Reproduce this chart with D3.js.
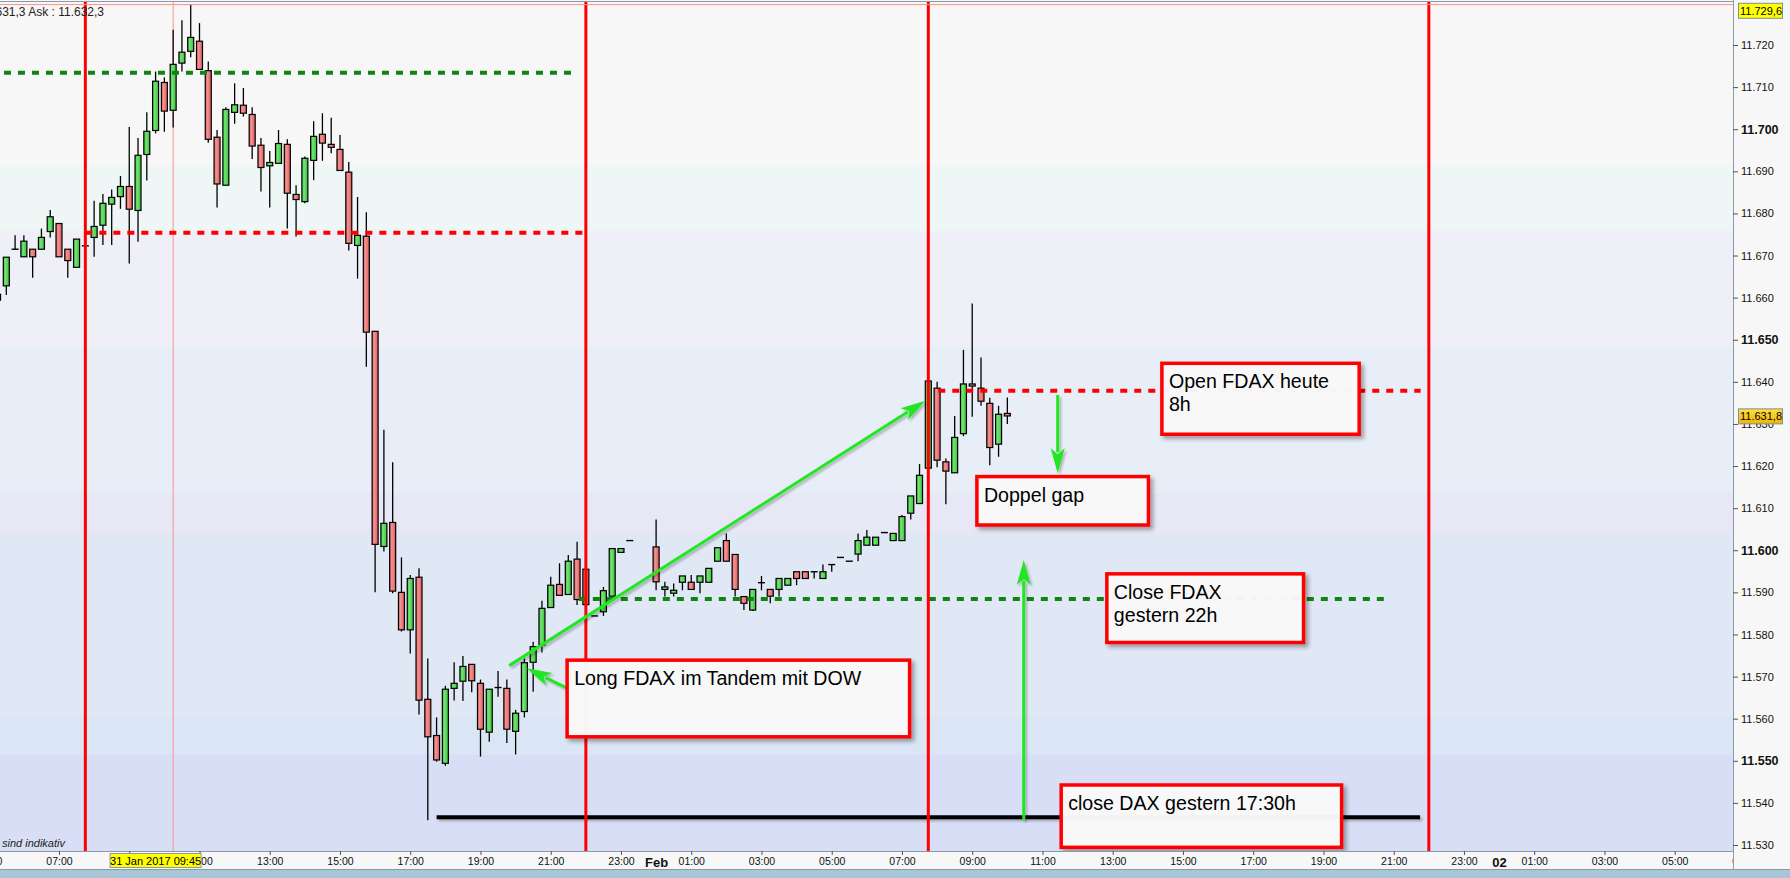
<!DOCTYPE html>
<html><head><meta charset="utf-8">
<script src="https://cdn.jsdelivr.net/npm/d3@7"></script>
<style>body{margin:0;background:#f7f7f7;overflow:hidden}svg{display:block;font-family:"Liberation Sans",Arial,sans-serif}</style>
</head><body><svg id="c" width="1790" height="878"></svg>
<script>
// ---------------- DATA ----------------
const times = ["01-31 05:15","01-31 05:30","01-31 05:45","01-31 06:00","01-31 06:15","01-31 06:30","01-31 06:45","01-31 07:00","01-31 07:15","01-31 07:30","01-31 07:45",
"01-31 08:00","01-31 08:15","01-31 08:30","01-31 08:45","01-31 09:00","01-31 09:15","01-31 09:30","01-31 09:45","01-31 10:00","01-31 10:15","01-31 10:30","01-31 10:45",
"01-31 11:00","01-31 11:15","01-31 11:30","01-31 11:45","01-31 12:00","01-31 12:15","01-31 12:30","01-31 12:45","01-31 13:00","01-31 13:15","01-31 13:30","01-31 13:45",
"01-31 14:00","01-31 14:15","01-31 14:30","01-31 14:45","01-31 15:00","01-31 15:15","01-31 15:30","01-31 15:45","01-31 16:00","01-31 16:15","01-31 16:30","01-31 16:45",
"01-31 17:00","01-31 17:15","01-31 17:30","01-31 17:45","01-31 18:00","01-31 18:15","01-31 18:30","01-31 18:45","01-31 19:00","01-31 19:15","01-31 19:30","01-31 19:45",
"01-31 20:00","01-31 20:15","01-31 20:30","01-31 20:45","01-31 21:00","01-31 21:15","01-31 21:30","01-31 21:45","01-31 22:00","01-31 22:15","01-31 22:30","01-31 22:45",
"01-31 23:00","01-31 23:15","02-01 00:00","02-01 00:15","02-01 00:30","02-01 00:45","02-01 01:00","02-01 01:15","02-01 01:30","02-01 01:45",
"02-01 02:00","02-01 02:15","02-01 02:30","02-01 02:45","02-01 03:00","02-01 03:15","02-01 03:30","02-01 03:45","02-01 04:00","02-01 04:15","02-01 04:30","02-01 04:45",
"02-01 05:00","02-01 05:15","02-01 05:30","02-01 05:45","02-01 06:00","02-01 06:15","02-01 06:30","02-01 06:45","02-01 07:00","02-01 07:15","02-01 07:30","02-01 07:45",
"02-01 08:00","02-01 08:15","02-01 08:30","02-01 08:45","02-01 09:00","02-01 09:15","02-01 09:30","02-01 09:45","02-01 10:00"];
const opens = [11659.4,11662.8,11671.5,11669.7,11671.5,11671.5,11675.7,11677.6,11671.5,11667.2,11672.3,
11674.3,11677.2,11682.2,11684.0,11686.4,11680.7,11694.0,11699.7,11711.1,11704.5,11715.7,11718.5,
11720.9,11713.9,11698.1,11686.7,11704.0,11705.7,11703.5,11696.2,11691.3,11691.9,11696.4,11684.5,
11682.8,11692.6,11698.8,11696.4,11695.2,11689.8,11672.4,11674.6,11652.0,11600.9,11606.6,11590.0,
11581.1,11593.6,11564.6,11556.0,11549.4,11567.2,11568.9,11572.9,11568.4,11556.8,11567.4,11567.2,
11557.0,11561.7,11573.4,11577.5,11586.4,11591.9,11589.5,11597.9,11595.5,11584.4,11585.4,11589.1,
11599.5,11602.3,11600.8,11590.7,11589.8,11592.4,11592.4,11592.4,11592.4,11597.4,
11602.3,11599.0,11589.0,11585.8,11592.3,11590.7,11590.7,11591.7,11594.9,11594.9,11594.9,11593.3,
11596.6,11598.3,11597.4,11599.1,11601.2,11601.2,11604.2,11602.3,11602.3,11608.8,11611.1,11619.5,
11638.5,11621.0,11618.4,11627.7,11639.5,11638.5,11634.9,11625.2,11632.5];
const highs = [11661.5,11669.6,11674.8,11674.8,11671.5,11676.4,11680.8,11677.6,11671.5,11673.9,11673.3,
11683.0,11684.6,11685.7,11688.9,11700.5,11697.9,11704.0,11713.7,11712.3,11723.6,11725.9,11729.6,
11725.2,11716.1,11699.8,11705.2,11710.9,11709.8,11705.2,11697.9,11694.8,11699.8,11697.6,11686.7,
11693.5,11701.9,11703.8,11702.7,11698.6,11692.2,11683.9,11680.3,11652.0,11628.6,11620.9,11598.3,
11594.1,11595.7,11574.3,11560.3,11567.8,11573.4,11574.9,11572.9,11569.3,11567.0,11571.3,11569.3,
11562.1,11574.3,11578.3,11588.0,11593.7,11596.9,11598.9,11602.0,11595.5,11584.4,11591.3,11600.4,
11600.4,11602.3,11607.3,11592.5,11592.1,11593.9,11594.1,11593.9,11595.7,11600.6,
11604.0,11599.0,11589.0,11590.7,11593.9,11590.7,11593.3,11593.3,11594.9,11594.9,11594.9,11596.6,
11596.6,11598.3,11597.4,11604.0,11604.8,11603.1,11604.2,11604.0,11608.4,11612.9,11620.5,11640.2,
11640.0,11621.8,11631.9,11647.6,11658.6,11645.8,11636.2,11634.3,11636.3];
const lows = [11659.0,11660.6,11671.5,11669.7,11664.7,11671.5,11674.3,11669.7,11664.7,11667.2,11671.3,
11669.7,11672.5,11672.5,11681.1,11668.1,11673.3,11687.8,11699.0,11699.4,11700.4,11713.7,11717.1,
11714.2,11696.8,11681.4,11686.7,11701.3,11703.0,11692.9,11685.2,11681.4,11691.9,11676.4,11674.5,
11682.4,11687.9,11692.5,11694.3,11690.2,11671.2,11664.5,11643.6,11590.0,11599.7,11589.8,11580.7,
11575.5,11561.0,11535.9,11549.8,11548.8,11564.3,11564.2,11566.3,11551.0,11554.5,11565.2,11554.2,
11551.5,11560.3,11566.4,11575.7,11586.4,11589.3,11589.5,11587.0,11586.2,11584.4,11584.4,11589.1,
11599.5,11602.3,11590.5,11589.0,11589.0,11590.5,11590.7,11589.8,11592.4,11597.4,
11597.4,11589.0,11585.8,11585.6,11590.5,11587.4,11589.0,11591.7,11591.7,11593.3,11593.3,11593.3,
11594.9,11598.3,11597.4,11597.4,11601.2,11601.2,11604.2,11602.3,11602.3,11607.3,11611.1,11619.5,
11619.7,11610.9,11618.4,11627.1,11631.7,11634.3,11620.2,11622.2,11630.0];
const closes = [11660.8,11669.6,11671.5,11673.4,11669.7,11674.3,11679.2,11669.7,11668.8,11673.9,11672.3,
11676.9,11682.4,11683.8,11686.4,11681.0,11693.8,11699.5,11711.4,11704.3,11715.4,11718.3,11721.8,
11714.2,11697.6,11687.0,11704.7,11705.8,11703.8,11696.0,11690.9,11692.1,11696.6,11684.8,11683.3,
11693.1,11698.3,11696.7,11695.7,11690.2,11672.9,11674.8,11651.8,11601.4,11606.4,11590.3,11581.1,
11593.3,11564.4,11555.7,11550.2,11567.0,11568.4,11572.4,11569.0,11557.5,11567.0,11567.4,11557.5,
11561.3,11573.3,11577.1,11586.2,11591.7,11589.3,11597.4,11588.3,11587.1,11584.4,11590.4,11600.4,
11600.4,11602.3,11592.5,11591.3,11590.5,11593.9,11590.7,11593.9,11595.7,11600.6,
11597.4,11590.7,11587.4,11590.7,11592.3,11589.1,11593.3,11593.3,11593.3,11593.3,11594.9,11594.9,
11596.6,11598.3,11597.4,11602.3,11603.1,11603.1,11604.2,11604.0,11608.0,11612.9,11617.8,11640.2,
11621.4,11618.8,11626.8,11639.5,11639.0,11635.4,11624.4,11632.3,11631.9];

const yTicks = [11530,11540,11550,11560,11570,11580,11590,11600,11610,11620,11630,11640,11650,11660,11670,11680,11690,11700,11710,11720];
const xTicks = ["01-31 05:00","01-31 07:00","01-31 09:00","01-31 11:00","01-31 13:00","01-31 15:00","01-31 17:00","01-31 19:00","01-31 21:00","01-31 23:00",
"02-01 00:00","02-01 01:00","02-01 03:00","02-01 05:00","02-01 07:00","02-01 09:00","02-01 11:00","02-01 13:00","02-01 15:00","02-01 17:00","02-01 19:00","02-01 21:00","02-01 23:00",
"02-02 00:00","02-02 01:00","02-02 03:00","02-02 05:00","02-02 07:00"];

// session separators (red verticals)
const sessionLines = ["01-31 07:45","01-31 22:00","02-01 07:45","02-01 22:00"];
// horizontal levels
const levelNames = ["hochGruen","openGestern","closeFDAX","openHeute","closeDAX"];
const levelValues = [11713.4, 11675.4, 11588.4, 11637.9, 11536.6];
const levelFrom = ["01-31 05:26","01-31 07:45","01-31 21:48","02-01 08:02","01-31 17:45"];
const levelTo = ["01-31 21:35","01-31 21:56","02-01 20:45","02-01 21:46","02-01 21:45"];
// arrows (from -> to, tip at "to")
const arrowFromT = ["01-31 19:49","01-31 21:31","02-01 11:26","02-01 10:28"];
const arrowFromV = [11572.6, 11567.0, 11636.9, 11535.9];
const arrowToT = ["02-01 07:40","01-31 20:19","02-01 11:26","02-01 10:28"];
const arrowToV = [11635.5, 11572.0, 11618.3, 11597.7];
// note boxes
const noteTexts = ["Open FDAX heute\n8h","Doppel gap","Close FDAX\ngestern 22h","Long FDAX im Tandem mit DOW","close DAX gestern 17:30h"];
const noteT0 = ["02-01 14:24","02-01 09:08","02-01 12:50","01-31 21:28","02-01 11:32"];
const noteT1 = ["02-01 20:01","02-01 14:01","02-01 18:26","02-01 07:13","02-01 19:31"];
const noteV0 = [11644.4, 11617.5, 11594.4, 11573.9, 11544.25];
const noteV1 = [11627.55, 11606.0, 11578.1, 11555.7, 11529.45];
// crosshair / labels
const crossTime = "01-31 10:15", crossLabelTime = "01-31 09:45", crossLabel = "31 Jan 2017 09:45";
const crossPrice = 11729.6, lastPrice = 11631.8;
const quoteText = "Bid : 11.631,3 Ask : 11.632,3";
const footText = "sind indikativ";

// ---------------- CHART ----------------
const parse = d3.utcParse("%Y-%m-%d %H:%M");
const T = s => parse("2017-" + s);
const plotR = 1733, plotT = 2, plotB = 851;
const x = d3.scaleUtc().domain([T("01-31 07:00"), T("02-02 05:00")]).range([59, 1674.7]);
const y = d3.scaleLinear().domain([11530, 11720]).range([845, 45]);
const deFmt = v => d3.format(",.0f")(v).replace(/,/g, ".");
const deFmt1 = v => d3.format(",.1f")(v).replace(/,/g, "#").replace(".", ",").replace(/#/g, ".");

const svg = d3.select("#c");
const defs = svg.append("defs");
defs.append("clipPath").attr("id", "plot").append("rect")
  .attr("x", 0).attr("y", plotT).attr("width", plotR).attr("height", plotB - plotT);
function grad(id, stops) {
  const g = defs.append("linearGradient").attr("id", id).attr("x1", 0).attr("x2", 1).attr("y1", 0).attr("y2", 0);
  stops.forEach(s => g.append("stop").attr("offset", s[0]).attr("stop-color", s[1]));
}
grad("gUp", [[0, "#3fc43f"], [0.35, "#74e474"], [1, "#3cc03c"]]);
grad("gDn", [[0, "#e36060"], [0.35, "#f39393"], [1, "#df5a5a"]]);
const gold = defs.append("linearGradient").attr("id", "gGold").attr("x1", 0).attr("x2", 0).attr("y1", 0).attr("y2", 1);
gold.append("stop").attr("offset", 0).attr("stop-color", "#ffe040");
gold.append("stop").attr("offset", 1).attr("stop-color", "#f2b400");
const sh = defs.append("filter").attr("id", "shadow").attr("x", "-10%").attr("y", "-10%").attr("width", "130%").attr("height", "140%");
sh.append("feDropShadow").attr("dx", 3).attr("dy", 3).attr("stdDeviation", 2).attr("flood-color", "#000").attr("flood-opacity", 0.35);
const sh2 = defs.append("filter").attr("id", "shadow2").attr("filterUnits", "userSpaceOnUse")
  .attr("x", 0).attr("y", 0).attr("width", 1790).attr("height", 878);
sh2.append("feDropShadow").attr("dx", 2).attr("dy", 2).attr("stdDeviation", 1.2).attr("flood-color", "#000").attr("flood-opacity", 0.25);

// background bands (plot area gradient look)
const bands = [[0,165,"#f7f7f7"],[165,231,"#eff6f6"],[231,347,"#efeff8"],[347,493,"#e8eef7"],[493,533,"#e7e7f5"],[533,717,"#e0e7f5"],[717,755,"#dae5f5"],[755,851,"#d7def5"]];
svg.append("g").selectAll("rect").data(bands).join("rect")
  .attr("x", 0).attr("width", plotR).attr("y", d => d[0]).attr("height", d => d[1] - d[0]).attr("fill", d => d[2]);

const plot = svg.append("g").attr("clip-path", "url(#plot)");

// crosshair
plot.append("line").attr("x1", x(T(crossTime))).attr("x2", x(T(crossTime))).attr("y1", plotT).attr("y2", plotB)
  .attr("stroke", "#ff8f8f").attr("stroke-width", 1);

// candles
const candles = times.map((s, i) => ({ t: T(s), o: opens[i], h: highs[i], l: lows[i], c: closes[i] }));
const cg = plot.append("g").selectAll("g").data(candles).join("g");
cg.append("line").attr("x1", d => x(d.t)).attr("x2", d => x(d.t))
  .attr("y1", d => y(d.h)).attr("y2", d => y(d.l)).attr("stroke", "#000").attr("stroke-width", 1.3);
cg.filter(d => d.o !== d.c).append("rect")
  .attr("x", d => x(d.t) - 3).attr("width", 6)
  .attr("y", d => y(Math.max(d.o, d.c))).attr("height", d => Math.max(1, Math.abs(y(d.o) - y(d.c))))
  .attr("fill", d => d.c > d.o ? "url(#gUp)" : "url(#gDn)").attr("stroke", "#000").attr("stroke-width", 1.2);
cg.filter(d => d.o === d.c).append("line")
  .attr("x1", d => x(d.t) - 3.5).attr("x2", d => x(d.t) + 3.5)
  .attr("y1", d => y(d.o)).attr("y2", d => y(d.o)).attr("stroke", "#000").attr("stroke-width", 1.4);

// levels
const levelStyle = { hochGruen: ["#0f850f", "7,7", 4], openGestern: ["#ff0000", "7,7", 4], closeFDAX: ["#0f850f", "7,7", 4], openHeute: ["#ff0000", "7,7", 4], closeDAX: ["#000", null, 4] };
levelNames.forEach((n, i) => {
  const st = levelStyle[n];
  const l = plot.append("line").attr("x1", x(T(levelFrom[i]))).attr("x2", x(T(levelTo[i])))
    .attr("y1", y(levelValues[i])).attr("y2", y(levelValues[i]))
    .attr("stroke", st[0]).attr("stroke-width", st[2]);
  if (st[1]) l.attr("stroke-dasharray", st[1]);
  else l.attr("filter", "url(#shadow2)");
});

// red session lines
plot.append("g").selectAll("line").data(sessionLines).join("line")
  .attr("x1", d => x(T(d))).attr("x2", d => x(T(d))).attr("y1", plotT).attr("y2", plotB)
  .attr("stroke", "#ff0000").attr("stroke-width", 3);

// crosshair horizontal
plot.append("line").attr("x1", 0).attr("x2", plotR).attr("y1", y(crossPrice)).attr("y2", y(crossPrice))
  .attr("stroke", "#ff8f8f").attr("stroke-width", 1);

// arrows
const ag = plot.append("g").attr("filter", "url(#shadow2)");
arrowFromT.forEach((s, i) => {
  const x1 = x(T(s)), y1 = y(arrowFromV[i]), x2 = x(T(arrowToT[i])), y2 = y(arrowToV[i]);
  const dx = x2 - x1, dy = y2 - y1, len = Math.hypot(dx, dy), ux = dx / len, uy = dy / len;
  const hl = 25, hw = 7;
  const bx = x2 - ux * hl, by = y2 - uy * hl;
  ag.append("line").attr("x1", x1).attr("y1", y1).attr("x2", bx + ux * 4).attr("y2", by + uy * 4)
    .attr("stroke", "#22e622").attr("stroke-width", 3);
  ag.append("path").attr("d", `M${x2},${y2}L${bx - uy * hw},${by + ux * hw}L${bx + ux * 6},${by + uy * 6}L${bx + uy * hw},${by - ux * hw}Z`)
    .attr("fill", "#22e622");
});

// note boxes
noteTexts.forEach((txt, i) => {
  const x0 = x(T(noteT0[i])), x1 = x(T(noteT1[i])), y0 = y(noteV0[i]), y1 = y(noteV1[i]);
  const g = plot.append("g");
  g.append("rect").attr("x", x0).attr("y", y0).attr("width", x1 - x0).attr("height", y1 - y0)
    .attr("fill", "#fafafa").attr("fill-opacity", 0.96).attr("stroke", "#ff0000").attr("stroke-width", 3.5)
    .attr("filter", "url(#shadow)");
  txt.split("\n").forEach((line, k) => {
    g.append("text").attr("x", x0 + 7).attr("y", y0 + 25 + k * 23).attr("font-size", 19.6).attr("fill", "#000").text(line);
  });
});

// quote text & foot text
plot.append("text").attr("x", 104).attr("y", 16).attr("text-anchor", "end").attr("font-size", 12).attr("fill", "#222").text(quoteText);
plot.append("text").attr("x", 2).attr("y", 847).attr("font-size", 11).attr("font-style", "italic").attr("fill", "#222").text(footText);

// frame top line
svg.append("line").attr("x1", 0).attr("x2", 1790).attr("y1", 1.5).attr("y2", 1.5).attr("stroke", "#8d9aa6").attr("stroke-width", 1);

// x axis area
svg.append("rect").attr("x", 0).attr("y", plotB).attr("width", 1790).attr("height", 18).attr("fill", "#f7f7f7");
svg.append("line").attr("x1", 0).attr("x2", plotR).attr("y1", plotB + 0.5).attr("y2", plotB + 0.5).attr("stroke", "#8d9aa6");
const crossT = T(crossLabelTime);
const xAxis = d3.axisBottom(x).tickValues(xTicks.map(T)).tickSize(4).tickPadding(3)
  .tickFormat(d => d.getUTCHours() === 0 ? (d.getUTCDate() === 1 ? "Feb" : d3.utcFormat("%d")(d)) : d3.utcFormat("%H:%M")(d));
const xa = svg.append("g").attr("transform", `translate(0,${plotB})`).call(xAxis);
xa.select(".domain").remove();
xa.selectAll(".tick line").attr("stroke", "#555").attr("stroke-width", 1)
  .attr("display", d => d.getUTCHours() === 0 ? "none" : null);
xa.selectAll(".tick text").attr("fill", "#111").attr("font-size", d => d.getUTCHours() === 0 ? 13 : 10.5)
  .attr("font-weight", d => d.getUTCHours() === 0 ? "bold" : null)
  .attr("font-family", "'Liberation Sans',Arial,sans-serif")
  // a label fully hidden under the crosshair time box is not drawn
  .attr("display", d => Math.abs(x(d) - x(crossT)) < 30 ? "none" : null);
svg.append("line").attr("x1", 0).attr("x2", 1790).attr("y1", 869.5).attr("y2", 869.5).attr("stroke", "#8d9aa6");
svg.append("rect").attr("x", 0).attr("y", 870).attr("width", 1790).attr("height", 8).attr("fill", "#a9c6d6");

// crosshair time label
const cx = x(crossT);
svg.append("rect").attr("x", cx - 45.5).attr("y", 853.5).attr("width", 91).attr("height", 14).attr("fill", "#ffff00").attr("stroke", "#8d9aa6");
svg.append("text").attr("x", cx).attr("y", 864.5).attr("text-anchor", "middle").attr("font-size", 11).attr("fill", "#000").text(crossLabel);

// right axis panel
svg.append("rect").attr("x", plotR).attr("y", 0).attr("width", 1790 - plotR).attr("height", 869).attr("fill", "#f7f7f7");
svg.append("line").attr("x1", plotR + 0.5).attr("x2", plotR + 0.5).attr("y1", 0).attr("y2", 869).attr("stroke", "#8d9aa6");
const yAxis = d3.axisRight(y).tickValues(yTicks).tickSize(5).tickPadding(3).tickFormat(deFmt);
const ya = svg.append("g").attr("transform", `translate(${plotR},0)`).call(yAxis);
ya.select(".domain").remove();
ya.selectAll(".tick line").attr("stroke", "#555");
ya.selectAll(".tick text").attr("fill", "#111").attr("font-family", "'Liberation Sans',Arial,sans-serif")
  .attr("font-size", d => d % 50 === 0 ? 12.5 : 11).attr("font-weight", d => d % 50 === 0 ? "bold" : null);

// price labels
function priceLabel(v, fill) {
  const yy = Math.max(y(v), 10.8);
  svg.append("rect").attr("x", 1738.5).attr("y", yy - 7.5).attr("width", 44).attr("height", 15).attr("fill", fill).attr("stroke", "#7d8e9e");
  svg.append("text").attr("x", 1740).attr("y", yy + 4).attr("font-size", 11).attr("fill", "#000").text(deFmt1(v));
}
priceLabel(crossPrice, "#ffff00");
priceLabel(lastPrice, "url(#gGold)");
</script></body></html>
